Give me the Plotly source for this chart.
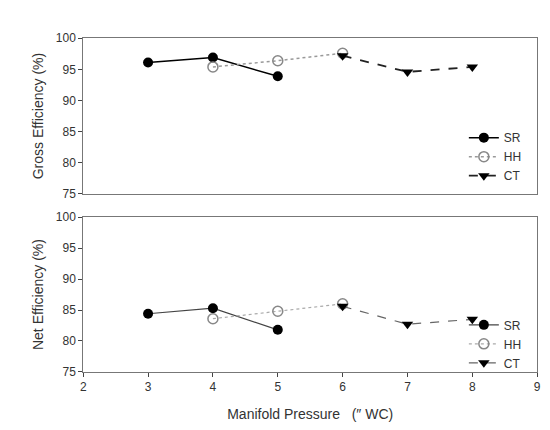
import plotly.graph_objects as go

x_sr = [3, 4, 5]
x_hh = [4, 5, 6]
x_ct = [6, 7, 8]
gross_sr = [96.1, 96.9, 93.9]
gross_hh = [95.4, 96.4, 97.6]
gross_ct = [97.2, 94.6, 95.4]
net_sr = [84.4, 85.3, 81.8]
net_hh = [83.6, 84.8, 86.0]
net_ct = [85.6, 82.7, 83.5]

fig = go.Figure()
styles = [
    ("SR", dict(color="black", width=1.5, dash="solid"), dict(symbol="circle", size=10, color="black")),
    ("HH", dict(color="#999999", width=1.5, dash="dot"), dict(symbol="circle-open", size=10, color="#888888", line=dict(width=1.5))),
    ("CT", dict(color="#222222", width=1.8, dash="dash"), dict(symbol="triangle-down", size=10, color="black")),
]
top = [(x_sr, gross_sr), (x_hh, gross_hh), (x_ct, gross_ct)]
bot = [(x_sr, net_sr), (x_hh, net_hh), (x_ct, net_ct)]
botline = ["#444444", "#aaaaaa", "#666666"]
for (name, ln, mk), (xs, ys) in zip(styles, top):
    fig.add_trace(go.Scatter(x=xs, y=ys, name=name, mode="lines+markers", line=ln, marker=mk,
                             xaxis="x", yaxis="y", legend="legend"))
for (name, ln, mk), (xs, ys), c in zip(styles, bot, botline):
    l2 = dict(ln); l2["color"] = c; l2["width"] = 1.2
    fig.add_trace(go.Scatter(x=xs, y=ys, name=name, mode="lines+markers", line=l2, marker=mk,
                             xaxis="x2", yaxis="y2", legend="legend2"))

ax = dict(showline=True, mirror=True, linecolor="#777", linewidth=1, showgrid=False, zeroline=False,
          range=[2, 9], domain=[0.133, 0.969], ticks="outside", ticklen=4, dtick=1,
          tickfont=dict(family="Liberation Sans", size=12, color="#333"))
ay = dict(showline=True, mirror=True, linecolor="#777", linewidth=1, showgrid=False, zeroline=False,
          range=[75, 100], dtick=5, ticks="outside", ticklen=4,
          tickfont=dict(family="Liberation Sans", size=12, color="#333"),
          title=dict(font=dict(family="Liberation Sans", size=14, color="#333"), standoff=8))
fig.update_layout(
    width=550, height=430, margin=dict(l=0, r=0, t=0, b=0),
    paper_bgcolor="white", plot_bgcolor="white",
    xaxis=dict(ax, anchor="y", showticklabels=False, ticks=""),
    yaxis=dict(ay, domain=[0.57, 0.944], anchor="x", title=dict(ay["title"], text="Gross Efficiency (%)")),
    xaxis2=dict(ax, anchor="y2",
                title=dict(text="Manifold Pressure   (\u2033 WC)", font=dict(family="Liberation Sans", size=14, color="#333"))),
    yaxis2=dict(ay, domain=[0.142, 0.514], anchor="x2", title=dict(ay["title"], text="Net Efficiency (%)")),
    legend=dict(x=0.95, y=0.74, xanchor="right", yanchor="top", bgcolor="rgba(0,0,0,0)",
                font=dict(family="Liberation Sans", size=12, color="#333"), tracegroupgap=0),
    legend2=dict(x=0.95, y=0.29, xanchor="right", yanchor="top", bgcolor="rgba(0,0,0,0)",
                 font=dict(family="Liberation Sans", size=12, color="#333"), tracegroupgap=0),
    showlegend=True,
)
fig.write_html("out.html")
